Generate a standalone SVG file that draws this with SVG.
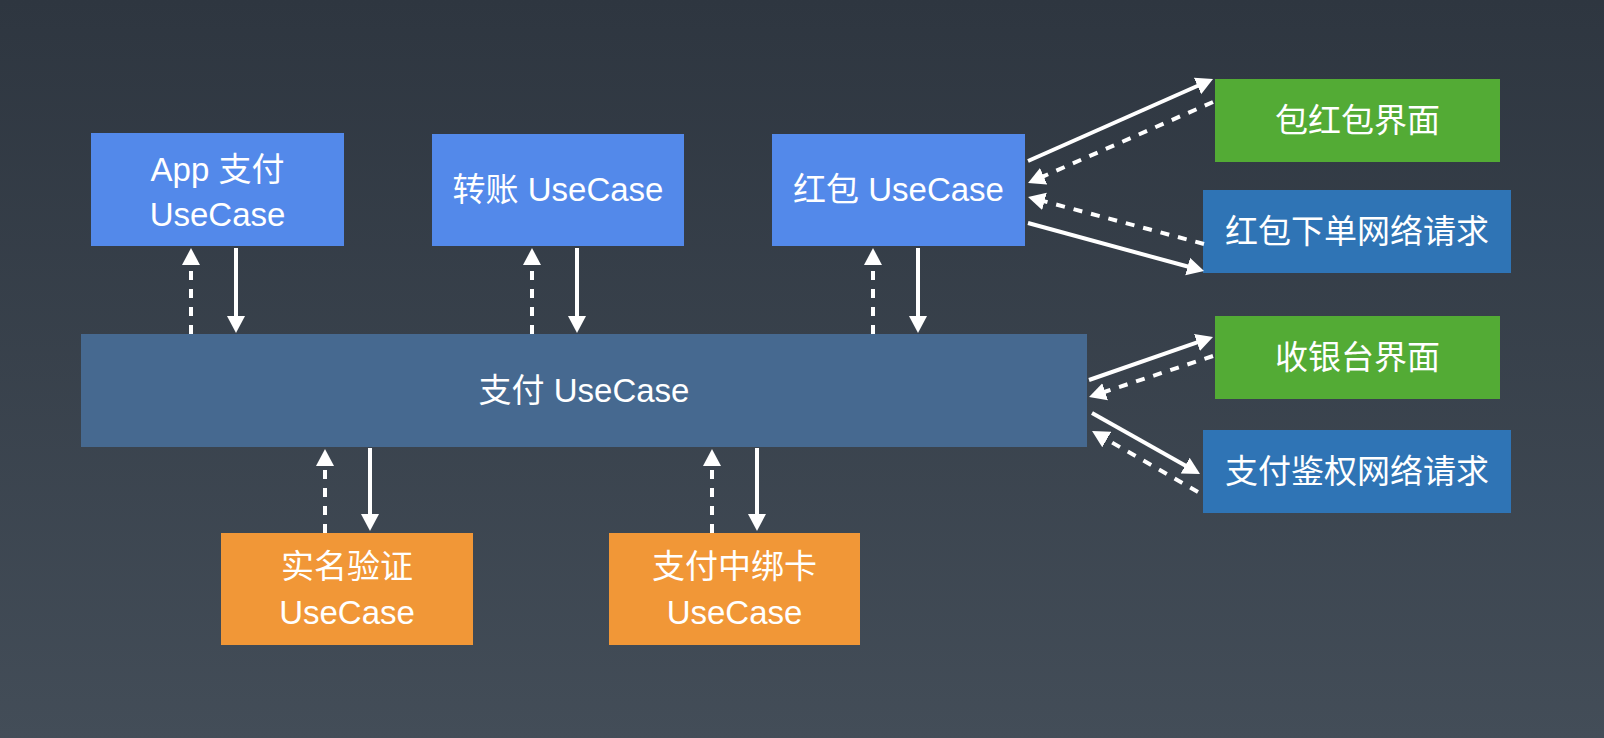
<svg xmlns="http://www.w3.org/2000/svg" width="1604" height="738" viewBox="0 0 1604 738">
<defs>
<linearGradient id="bg" x1="0" y1="0" x2="0" y2="1">
<stop offset="0" stop-color="#2e3640"/>
<stop offset="1" stop-color="#434d58"/>
</linearGradient>
<marker id="ah" markerUnits="userSpaceOnUse" markerWidth="20" markerHeight="20" viewBox="0 -10 20 20" refX="1" refY="0" orient="auto">
<path d="M0,-9 L17,0 L0,9 z" fill="#ffffff"/>
</marker>
<style>
.t{font-family:"Liberation Sans","Noto Sans CJK SC",sans-serif;font-size:33px;fill:#ffffff;text-anchor:middle}
.s{stroke:#ffffff;stroke-width:4;fill:none;marker-end:url(#ah)}
.d{stroke:#ffffff;stroke-width:4;fill:none;stroke-dasharray:9 9;marker-end:url(#ah)}
.lb{fill:#5389ea}
.mb{fill:#466990}
.gr{fill:#53ab35}
.nb{fill:#2f74b5}
.or{fill:#f19737}
</style>
</defs>
<rect x="0" y="0" width="1604" height="738" fill="url(#bg)"/>

<g id="app-pay">
<rect class="lb" x="91" y="133" width="253" height="113"/>
<text class="t" x="217.5" y="181">App 支付</text>
<text class="t" x="217.5" y="226">UseCase</text>
</g>
<g id="transfer">
<rect class="lb" x="432" y="134" width="252" height="112"/>
<text class="t" x="558" y="201">转账 UseCase</text>
</g>
<g id="redpacket">
<rect class="lb" x="772" y="134" width="253" height="112"/>
<text class="t" x="898.5" y="201">红包 UseCase</text>
</g>
<g id="pay">
<rect class="mb" x="81" y="334" width="1006" height="113"/>
<text class="t" x="584" y="402">支付 UseCase</text>
</g>
<g id="realname">
<rect class="or" x="221" y="533" width="252" height="112"/>
<text class="t" x="347" y="578">实名验证</text>
<text class="t" x="347" y="624">UseCase</text>
</g>
<g id="bindcard">
<rect class="or" x="609" y="533" width="251" height="112"/>
<text class="t" x="734.5" y="578">支付中绑卡</text>
<text class="t" x="734.5" y="624">UseCase</text>
</g>
<g id="redpacket-ui">
<rect class="gr" x="1215" y="79" width="285" height="83"/>
<text class="t" x="1357.5" y="132">包红包界面</text>
</g>
<g id="redpacket-net">
<rect class="nb" x="1203" y="190" width="308" height="83"/>
<text class="t" x="1357" y="243">红包下单网络请求</text>
</g>
<g id="cashier-ui">
<rect class="gr" x="1215" y="316" width="285" height="83"/>
<text class="t" x="1357.5" y="369">收银台界面</text>
</g>
<g id="auth-net">
<rect class="nb" x="1203" y="430" width="308" height="83"/>
<text class="t" x="1357" y="483">支付鉴权网络请求</text>
</g>

<g id="connectors">
<line class="d" x1="191" y1="334" x2="191" y2="264"/>
<line class="s" x1="236" y1="248" x2="236" y2="317"/>
<line class="d" x1="532" y1="334" x2="532" y2="264"/>
<line class="s" x1="577" y1="248" x2="577" y2="317"/>
<line class="d" x1="873" y1="334" x2="873" y2="264"/>
<line class="s" x1="918" y1="248" x2="918" y2="317"/>
<line class="d" x1="325" y1="533" x2="325" y2="465"/>
<line class="s" x1="370" y1="448" x2="370" y2="515"/>
<line class="d" x1="712" y1="533" x2="712" y2="465"/>
<line class="s" x1="757" y1="448" x2="757" y2="515"/>
<line class="s" x1="1028" y1="161" x2="1198.4" y2="85.5"/>
<line class="d" x1="1213" y1="102" x2="1042.7" y2="176.6"/>
<line class="d" x1="1204" y1="244" x2="1043.5" y2="201.1"/>
<line class="s" x1="1028" y1="223" x2="1188.6" y2="266.8"/>
<line class="s" x1="1089" y1="380" x2="1197.9" y2="342.2"/>
<line class="d" x1="1213" y1="356" x2="1104.2" y2="392"/>
<line class="s" x1="1092" y1="413" x2="1186.1" y2="466.1"/>
<line class="d" x1="1198" y1="492" x2="1105.9" y2="439"/>
</g>
</svg>
